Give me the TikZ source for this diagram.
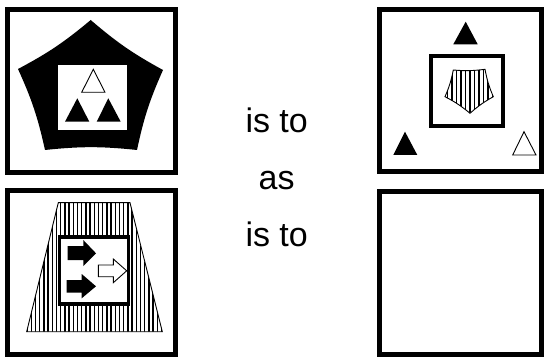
\documentclass[tikz,border=0pt]{standalone}
\usepackage{fontspec}
\setmainfont{Liberation Sans}
\begin{document}
\begin{tikzpicture}[x=1pt,y=-1pt,
  frame/.style={draw=black,line width=5pt},
  thinline/.style={draw=black,line width=0.9pt},
  stripe/.style={line width=1.4pt},
  word/.style={font=\fontsize{34}{40}\selectfont,anchor=base,inner sep=0pt},
  cv/.style={bend right=6}]
\useasboundingbox (0,0) rectangle (546,358);
% outer frames
\draw[frame] (7.5,9.5) rectangle (175.5,172.5);
\draw[frame] (379,10) rectangle (541.5,171.5);
\draw[frame] (7.5,190.5) rectangle (175.5,354.5);
\draw[frame] (379,192) rectangle (541.5,354.5);
% ---- top-left ----
\fill[black] (90.7,20) to[cv] (163,70) to[cv] (137,150) to[cv] (45,150) to[cv] (18,69) to[cv] cycle;
\fill[white] (58.3,65) rectangle (126.7,130);
\draw[thinline,fill=white] (93.3,69.3) -- (105,92.3) -- (81.7,92.3) -- cycle;
\fill (77.3,98.3) -- (89.3,121.7) -- (65,121.7) -- cycle;
\fill (108.3,98.3) -- (120.7,121.7) -- (96.7,121.7) -- cycle;
% ---- top-right ----
\draw[line width=4pt] (430.5,56) rectangle (503.3,126);
\begin{scope}
\clip (453.3,70) to[cv] (485,69.3) to[cv] (493.3,96.7) to[cv] (470,113.3) to[cv] (445,96.7) to[cv] cycle;
\foreach \x in {443,447.5,...,497} \draw[stripe] (\x,60) -- (\x,120);
\end{scope}
\draw[thinline] (453.3,70) to[cv] (485,69.3) to[cv] (493.3,96.7) to[cv] (470,113.3) to[cv] (445,96.7) to[cv] cycle;
\fill (465.7,21.7) -- (477.7,44.3) -- (453.3,44.3) -- cycle;
\fill (405,131.7) -- (417.3,155) -- (393.3,155) -- cycle;
\draw[thinline] (524,131.7) -- (536,155) -- (512.7,155) -- cycle;
% ---- bottom-left ----
\begin{scope}
\clip (58.3,202.7) -- (130,202.7) -- (162.3,331.7) -- (26.7,331.7) -- cycle;
\foreach \x in {27,31.2,...,164} \draw[stripe] (\x,200) -- (\x,335);
\end{scope}
\draw[thinline] (58.3,202.7) -- (130,202.7) -- (162.3,331.7) -- (26.7,331.7) -- cycle;
\draw[line width=3.5pt,fill=white] (59.5,237) rectangle (128.5,304);
\fill (67.7,246) -- (83.3,246) -- (83.3,240) -- (96,253.3) -- (83.3,266) -- (83.3,260) -- (67.7,260) -- cycle;
\fill (66.7,280) -- (81.7,280) -- (81.7,274) -- (96,286.3) -- (81.7,298.3) -- (81.7,292.7) -- (66.7,292.7) -- cycle;
\draw[thinline,fill=white] (98.3,265) -- (113.3,265) -- (113.3,259) -- (126.7,270.8) -- (113.3,282.7) -- (113.3,276.7) -- (98.3,276.7) -- cycle;
% ---- words ----
\node[word] (w1) at (276.7,133) {is to};
\node[word] (w2) at (276.7,190) {as};
\node[word] (w3) at (276.7,246.7) {is to};
\end{tikzpicture}
\end{document}
